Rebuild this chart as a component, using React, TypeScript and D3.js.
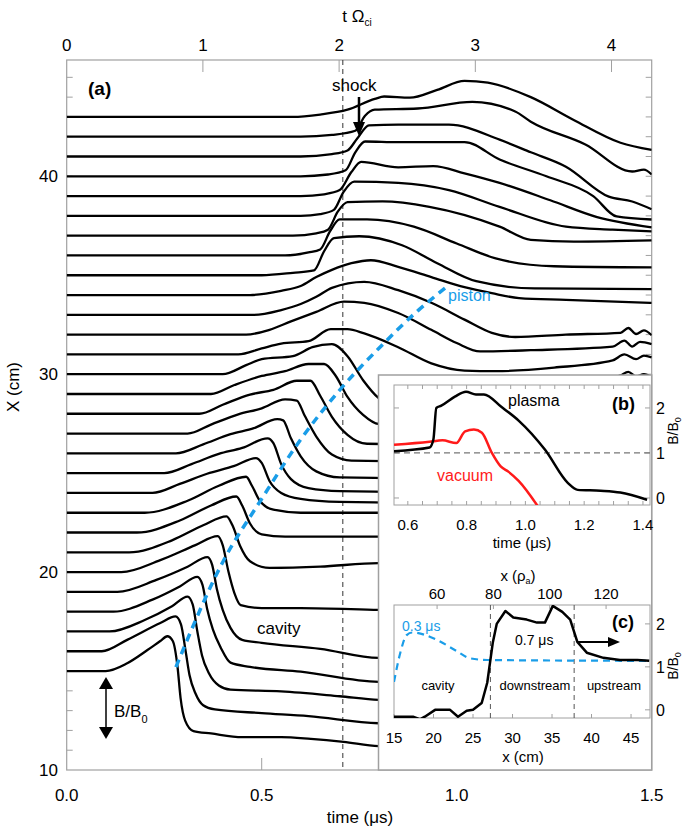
import React from "react";
import * as d3 from "d3";

// ---------- data ----------
// main panel: each trace = [time (us), B/B0]
const trace15 = [[0,1],[0.10,1.0],[0.155,1.13],[0.207,1.35],[0.24,1.5],[0.258,1.58],[0.272,1.5],[0.284,1.08],[0.292,0.55],[0.304,0.17],[0.325,0.0],[0.37,-0.04],[0.45,-0.1],[0.55,-0.1],[0.626,-0.13],[0.71,-0.18],[0.8,-0.25],[1.5,-0.3]];
const trace16 = [[0,1],[0.09,1.0],[0.155,1.19],[0.24,1.47],[0.279,1.58],[0.293,1.45],[0.305,1.0],[0.315,0.6],[0.33,0.3],[0.35,0.1],[0.38,0.03],[0.5,-0.03],[0.62,-0.08],[0.8,-0.2],[1.5,-0.25]];
const trace17 = [[0,1],[0.11,1.0],[0.2,1.19],[0.27,1.42],[0.31,1.58],[0.323,1.45],[0.335,1.0],[0.347,0.6],[0.365,0.3],[0.39,0.1],[0.42,0.03],[0.55,0.0],[0.7,-0.08],[0.8,-0.14],[1.5,-0.2]];
const trace18 = [[0,1],[0.12,1.0],[0.22,1.2],[0.29,1.42],[0.335,1.58],[0.348,1.45],[0.36,1.05],[0.375,0.7],[0.395,0.4],[0.42,0.15],[0.47,0.08],[0.6,0.0],[0.8,-0.17],[1.5,-0.2]];
const trace19 = [[0,1],[0.13,1.0],[0.23,1.2],[0.31,1.42],[0.361,1.58],[0.373,1.45],[0.385,1.05],[0.40,0.7],[0.42,0.4],[0.45,0.2],[0.5,0.15],[0.65,0.05],[0.8,-0.1],[1.5,-0.1]];
const trace20 = [[0,1],[0.14,1.0],[0.24,1.2],[0.33,1.45],[0.387,1.6],[0.40,1.45],[0.415,1.0],[0.43,0.65],[0.446,0.45],[0.5,0.4],[0.6,0.4],[0.8,0.37],[1.5,0.3]];
const trace21 = [[0,1],[0.16,1.0],[0.27,1.2],[0.35,1.45],[0.41,1.6],[0.425,1.45],[0.445,1.1],[0.47,0.85],[0.52,0.74],[0.65,0.76],[0.8,0.82],[1.5,0.8]];
const trace22 = [[0,1],[0.18,1.0],[0.29,1.2],[0.37,1.45],[0.435,1.6],[0.45,1.45],[0.47,1.15],[0.5,0.97],[0.56,0.93],[0.8,0.93],[1.5,0.9]];
const trace23 = [[0,1],[0.2,1.0],[0.31,1.2],[0.39,1.45],[0.46,1.6],[0.475,1.45],[0.495,1.2],[0.53,1.05],[0.6,1.0],[0.8,1.0],[1.5,1.0]];
const trace24 = [[0,1],[0.22,1.0],[0.29,1.15],[0.36,1.32],[0.43,1.45],[0.485,1.58],[0.5,1.5],[0.52,1.2],[0.55,1.0],[0.6,0.9],[0.7,0.85],[1.5,0.8]];
const trace25 = [[0,1],[0.25,1.0],[0.32,1.15],[0.39,1.32],[0.45,1.42],[0.515,1.58],[0.53,1.5],[0.55,1.15],[0.575,0.9],[0.62,0.75],[0.7,0.7],[1.5,0.65]];
const trace26 = [[0,1],[0.28,1.0],[0.35,1.15],[0.42,1.32],[0.48,1.42],[0.54,1.57],[0.555,1.55],[0.575,1.25],[0.6,0.95],[0.64,0.7],[0.7,0.6],[1.5,0.55]];
const trace27 = [[0,1],[0.31,1.0],[0.37,1.15],[0.44,1.32],[0.5,1.42],[0.56,1.57],[0.59,1.55],[0.61,1.3],[0.64,0.95],[0.68,0.65],[0.73,0.55],[1.5,0.5]];
const trace28 = [[0,1],[0.34,1.0],[0.4,1.15],[0.47,1.32],[0.53,1.4],[0.59,1.55],[0.625,1.55],[0.65,1.3],[0.68,0.95],[0.72,0.65],[0.77,0.5],[1.5,0.45]];
const trace29 = [[0,1],[0.37,1.0],[0.43,1.15],[0.5,1.3],[0.56,1.38],[0.62,1.5],[0.66,1.5],[0.69,1.3],[0.72,0.95],[0.76,0.65],[0.8,0.5],[1.5,0.45]];
const trace30 = [[0,1],[0.40,1.0],[0.46,1.15],[0.5,1.25],[0.58,1.3],[0.63,1.45],[0.68,1.5],[0.72,1.3],[0.76,0.9],[0.8,0.6],[0.85,0.45],[0.95,0.42],[1.1,0.5],[1.3,0.8],[1.42,0.98],[1.44,1.04],[1.46,0.96],[1.48,1.0],[1.5,0.95]];
const trace31 = [[0,1],[0.44,1.0],[0.5,1.1],[0.55,1.18],[0.62,1.22],[0.677,1.42],[0.72,1.42],[0.763,1.35],[0.85,1.12],[0.935,0.85],[1.02,0.73],[1.1,0.72],[1.25,0.78],[1.4,0.9],[1.43,1.0],[1.46,0.92],[1.48,0.98],[1.5,0.95]];
const trace32 = [[0,1],[0.46,1.0],[0.52,1.08],[0.575,1.22],[0.64,1.38],[0.711,1.55],[0.763,1.53],[0.85,1.36],[0.935,1.08],[1.0,0.86],[1.06,0.72],[1.19,0.74],[1.4,0.8],[1.43,0.9],[1.45,0.8],[1.47,0.88],[1.5,0.84]];
const trace33 = [[0,1],[0.48,1.0],[0.55,1.08],[0.6,1.18],[0.64,1.3],[0.68,1.45],[0.763,1.55],[0.85,1.41],[0.935,1.2],[1.02,0.92],[1.09,0.7],[1.15,0.63],[1.28,0.67],[1.42,0.7],[1.44,0.78],[1.46,0.68],[1.48,0.74],[1.5,0.66]];
const trace34 = [[0,1],[0.47,1.0],[0.55,1.07],[0.6,1.15],[0.64,1.3],[0.68,1.42],[0.73,1.53],[0.78,1.58],[0.85,1.47],[0.935,1.3],[1.02,1.13],[1.09,1.03],[1.16,0.95],[1.28,0.92],[1.5,0.87]];
const trace35 = [[0,1],[0.5,1.0],[0.58,1.04],[0.634,1.08],[0.66,1.4],[0.685,1.62],[0.75,1.65],[0.86,1.5],[0.95,1.2],[1.05,0.9],[1.2,0.78],[1.5,0.77]];
const trace36 = [[0,1],[0.56,1.0],[0.62,1.05],[0.65,1.1],[0.675,1.4],[0.70,1.6],[0.77,1.6],[0.89,1.48],[1.0,1.2],[1.1,0.95],[1.25,0.82],[1.5,0.8]];
const trace37 = [[0,1],[0.58,1.0],[0.64,1.04],[0.67,1.1],[0.695,1.4],[0.72,1.56],[0.81,1.57],[0.93,1.48],[1.11,1.15],[1.19,0.93],[1.3,0.9],[1.5,0.92]];
const trace38 = [[0,1],[0.6,1.0],[0.65,1.03],[0.685,1.1],[0.71,1.4],[0.737,1.57],[0.85,1.55],[0.98,1.43],[1.11,1.15],[1.28,0.82],[1.4,0.77],[1.5,0.74]];
const trace39 = [[0,1],[0.6,1.0],[0.66,1.03],[0.7,1.1],[0.73,1.4],[0.755,1.57],[0.85,1.48],[0.94,1.5],[1.02,1.38],[1.11,1.22],[1.24,0.93],[1.36,0.65],[1.5,0.48]];
const trace40 = [[0,1],[0.6,1.0],[0.67,1.03],[0.715,1.1],[0.74,1.4],[0.765,1.58],[0.85,1.57],[1.02,1.57],[1.11,1.28],[1.23,1.0],[1.35,0.67],[1.41,0.33],[1.5,0.28]];
const trace41 = [[0,1],[0.6,1.0],[0.68,1.04],[0.72,1.1],[0.745,1.3],[0.775,1.52],[0.85,1.53],[0.98,1.53],[1.11,1.28],[1.19,1.07],[1.28,0.83],[1.39,0.33],[1.45,0.25],[1.5,0.12]];
const trace42 = [[0,1],[0.6,1.0],[0.68,1.03],[0.74,1.1],[0.765,1.35],[0.79,1.45],[0.9,1.47],[1.04,1.58],[1.15,1.42],[1.19,1.25],[1.33,0.87],[1.45,0.42],[1.48,0.45],[1.5,0.37]];
const trace43 = [[0,1],[0.58,1.0],[0.65,1.04],[0.72,1.12],[0.79,1.3],[0.814,1.34],[0.88,1.32],[0.95,1.45],[1.02,1.6],[1.08,1.57],[1.19,1.33],[1.3,0.95],[1.42,0.57],[1.5,0.45]];

const positions = [15,16,17,18,19,20,21,22,23,24,25,26,27,28,29,30,31,32,33,34,35,36,37,38,39,40,41,42,43];
const traces = [trace15,trace16,trace17,trace18,trace19,trace20,trace21,trace22,trace23,trace24,trace25,trace26,trace27,trace28,trace29,trace30,trace31,trace32,trace33,trace34,trace35,trace36,trace37,trace38,trace39,trace40,trace41,trace42,trace43];

// piston trajectory [time (us), X (cm)]
const piston = [[0.28,15.2],[0.40,20.5],[0.50,23.7],[0.60,26.7],[0.70,29.2],[0.80,31.3],[0.90,33.2],[0.98,34.5]];
const shockTime = 0.708;

const timeTicks = [0.0, 0.5, 1.0, 1.5];
const omegaTicks = [0, 1, 2, 3, 4];
const xTicks = [10, 20, 30, 40];

// inset (b)
const plasma = [[0.553,1.04],[0.674,1.12],[0.687,1.3],[0.697,2.0],[0.714,2.05],[0.76,2.25],[0.798,2.36],[0.832,2.3],[0.859,2.3],[0.919,2.02],[0.977,1.72],[1.067,1.07],[1.145,0.33],[1.178,0.18],[1.256,0.16],[1.323,0.12],[1.414,-0.04]];
const vacuum = [[0.553,1.18],[0.674,1.25],[0.718,1.28],[0.765,1.22],[0.795,1.48],[0.825,1.52],[0.852,1.45],[0.886,1.0],[0.916,0.7],[0.943,0.58],[0.977,0.38],[1.044,-0.2]];
const bTimeTicks = [0.6, 0.8, 1.0, 1.2, 1.4];
const bTicks = [0, 1, 2];

// inset (c)
const profile07 = [[15.0,-0.16],[17.4,-0.16],[18.3,-0.22],[18.9,-0.16],[20.2,0.0],[22.1,0.0],[23.1,-0.16],[24.2,-0.02],[25.0,0.0],[26.1,0.16],[26.8,0.63],[27.5,1.56],[28.0,2.0],[29.1,2.3],[30.1,2.15],[31.8,2.1],[33.1,2.03],[34.1,2.03],[35.1,2.42],[36.3,2.28],[37.3,2.1],[38.2,1.58],[39.4,1.33],[41.5,1.21],[43.6,1.16],[45.8,1.16],[47.3,1.14]];
const profile03 = [[15.0,0.65],[15.8,1.33],[16.6,1.74],[17.3,1.8],[20.4,1.63],[22.9,1.37],[24.6,1.2],[26.8,1.16],[47.3,1.14]];
const cXTicks = [15, 20, 25, 30, 35, 40, 45];
const cRhoTicks = [60, 80, 100, 120];
const regionBounds = [27.2, 37.8];

const FONT = "'Liberation Sans', Arial, Helvetica, sans-serif";

export default function App() {
  const L = 66.7, R = 651.7, T = 60, B = 770;
  const x = d3.scaleLinear().domain([0, 1.5]).range([L, R]);
  const xo = d3.scaleLinear().domain([0, 4.295]).range([L, R]);
  const y = d3.scaleLinear().domain([10, 45.876]).range([B, T]);
  const amp = d3.scaleLinear().domain([0, 1]).range([0, 60]);

  const traceLine = (X: number) =>
    d3.line<number[]>()
      .x(d => x(d[0]))
      .y(d => y(X) - amp(d[1] - 1))
      .curve(d3.curveMonotoneX);

  const pistonLine = d3.line<number[]>().x(d => x(d[0])).y(d => y(d[1])).curve(d3.curveMonotoneX);

  // inset b
  const bL = 394, bR = 650, bT = 385, bB = 505;
  const bx = d3.scaleLinear().domain([0.553, 1.424]).range([bL, bR]);
  const by = d3.scaleLinear().domain([-0.156, 2.51]).range([bB, bT]);
  const bLine = d3.line<number[]>().x(d => bx(d[0])).y(d => by(d[1])).curve(d3.curveMonotoneX);

  // inset c
  const cL = 394, cR = 650, cT = 605, cB = 718;
  const cx = d3.scaleLinear().domain([15, 47.4]).range([cL, cR]);
  const crho = d3.scaleLinear().domain([44.7, 135.6]).range([cL, cR]);
  const cy = d3.scaleLinear().domain([-0.19, 2.44]).range([cB, cT]);
  const cLine = d3.line<number[]>().x(d => cx(d[0])).y(d => cy(d[1]));
  const cLineSmooth = d3.line<number[]>().x(d => cx(d[0])).y(d => cy(d[1])).curve(d3.curveMonotoneX);

  const minorCm = d3.range(11, 46);
  const bMinor = d3.range(0.6, 1.43, 0.05);

  return (
    <svg width={685} height={830} style={{ position: "absolute", left: 0, top: 0, background: "#fff" }} fontFamily={FONT}>
      <defs>
        <clipPath id="mainClip"><rect x={L} y={T} width={R - L} height={B - T} /></clipPath>
        <clipPath id="bClip"><rect x={bL} y={bT} width={bR - bL} height={bB - bT} /></clipPath>
        <clipPath id="cClip"><rect x={cL} y={cT} width={cR - cL} height={cB - cT} /></clipPath>
      </defs>

      {/* frame */}
      <rect x={L} y={T} width={R - L} height={B - T} fill="none" stroke="#a0a0a0" strokeWidth={1.2} />
      {minorCm.map(v => (
        <g key={"mt" + v} stroke="#a0a0a0" strokeWidth={1}>
          <line x1={L} x2={L + 6} y1={y(v)} y2={y(v)} />
          <line x1={R} x2={R - 6} y1={y(v)} y2={y(v)} />
        </g>
      ))}
      {omegaTicks.slice(1).map(v => (
        <line key={"ot" + v} x1={xo(v)} x2={xo(v)} y1={T} y2={T + 12} stroke="#a0a0a0" strokeWidth={1} />
      ))}
      {timeTicks.slice(1, 3).map(v => (
        <line key={"tt" + v} x1={x(v)} x2={x(v)} y1={B} y2={B - 12} stroke="#a0a0a0" strokeWidth={1} />
      ))}

      {/* labels */}
      {omegaTicks.map(v => (
        <text key={"ol" + v} x={xo(v)} y={51} fontSize={17} textAnchor="middle">{v}</text>
      ))}
      <text x={357} y={22} fontSize={17} textAnchor="middle">t Ω<tspan fontSize={10} dy={4}>ci</tspan></text>
      {timeTicks.map(v => (
        <text key={"tl" + v} x={x(v)} y={801} fontSize={17} textAnchor="middle">{v.toFixed(1)}</text>
      ))}
      <text x={360} y={823} fontSize={17} textAnchor="middle">time (μs)</text>
      {xTicks.map(v => (
        <text key={"xl" + v} x={58} y={y(v) + 6} fontSize={17} textAnchor="end">{v}</text>
      ))}
      <text transform={`translate(19,387) rotate(-90)`} fontSize={17} textAnchor="middle">X (cm)</text>

      {/* traces */}
      <g clipPath="url(#mainClip)">
        <line x1={x(shockTime)} x2={x(shockTime)} y1={T} y2={B} stroke="#333" strokeWidth={1} strokeDasharray="5,4" />
        {traces.map((tr, i) => (
          <path key={"tr" + i} d={traceLine(positions[i])(tr) || ""} fill="none" stroke="#000" strokeWidth={2.3} strokeLinejoin="round" />
        ))}
        <path d={pistonLine(piston) || ""} fill="none" stroke="#1a9de8" strokeWidth={3.5} strokeDasharray="8,6" />
      </g>

      <text x={88} y={95} fontSize={19} fontWeight="bold">(a)</text>
      <text x={332} y={91} fontSize={17}>shock</text>
      <line x1={359} x2={359} y1={97} y2={124} stroke="#000" strokeWidth={2.5} />
      <path d="M353,122 L365,122 L359,136 z" fill="#000" />
      <text x={448} y={301} fontSize={16} fill="#1a9de8">piston</text>
      <text x={257} y={634} fontSize={17}>cavity</text>
      <line x1={106} x2={106} y1={688} y2={728} stroke="#000" strokeWidth={1.5} />
      <path d="M99,689 L113,689 L106,677 z" fill="#000" />
      <path d="M99,727 L113,727 L106,739 z" fill="#000" />
      <text x={114} y={717} fontSize={17}>B/B<tspan fontSize={11} dy={6}>0</tspan></text>

      {/* inset box */}
      <rect x={378.5} y={375} width={R - 378.5} height={B - 375} fill="#fff" stroke="#a0a0a0" strokeWidth={1.5} />

      {/* inset b */}
      <rect x={bL} y={bT} width={bR - bL} height={bB - bT} fill="none" stroke="#a0a0a0" strokeWidth={1} />
      {bMinor.map((v, i) => (
        <g key={"bm" + i} stroke="#a0a0a0" strokeWidth={1}>
          <line x1={bx(v)} x2={bx(v)} y1={bT} y2={bT + 4} />
          <line x1={bx(v)} x2={bx(v)} y1={bB} y2={bB - 4} />
        </g>
      ))}
      {bTicks.map(v => (
        <g key={"bt" + v}>
          <line x1={bR} x2={bR - 5} y1={by(v)} y2={by(v)} stroke="#a0a0a0" />
          <line x1={bL} x2={bL + 5} y1={by(v)} y2={by(v)} stroke="#a0a0a0" />
          <text x={656} y={by(v) + 6} fontSize={16}>{v}</text>
        </g>
      ))}
      {bTimeTicks.map(v => (
        <text key={"btl" + v} x={bx(v)} y={530} fontSize={15} textAnchor="middle">{v.toFixed(1)}</text>
      ))}
      <text x={522} y={548} fontSize={15} textAnchor="middle">time (μs)</text>
      <text transform={`translate(678,431) rotate(-90)`} fontSize={14} textAnchor="middle">B/B<tspan fontSize={9} dy={3}>0</tspan></text>
      <g clipPath="url(#bClip)">
        <line x1={bL} x2={bR} y1={by(1)} y2={by(1)} stroke="#777" strokeWidth={1.2} strokeDasharray="6,4" />
        <path d={bLine(vacuum) || ""} fill="none" stroke="#ff1a1a" strokeWidth={2.5} />
        <path d={bLine(plasma) || ""} fill="none" stroke="#000" strokeWidth={2.5} />
      </g>
      <text x={508} y={406} fontSize={16}>plasma</text>
      <text x={437} y={481} fontSize={16} fill="#ff1a1a">vacuum</text>
      <text x={612} y={410} fontSize={18} fontWeight="bold">(b)</text>

      {/* inset c */}
      <rect x={cL} y={cT} width={cR - cL} height={cB - cT} fill="none" stroke="#a0a0a0" strokeWidth={1} />
      {cXTicks.map(v => (
        <g key={"cx" + v}>
          <line x1={cx(v)} x2={cx(v)} y1={cB} y2={cB - 4} stroke="#a0a0a0" />
          <text x={cx(v)} y={743} fontSize={15} textAnchor="middle">{v}</text>
        </g>
      ))}
      {cRhoTicks.map(v => (
        <g key={"cr" + v}>
          <line x1={crho(v)} x2={crho(v)} y1={cT} y2={cT + 4} stroke="#a0a0a0" />
          <text x={crho(v)} y={599} fontSize={15} textAnchor="middle">{v}</text>
        </g>
      ))}
      {bTicks.map(v => (
        <g key={"ct" + v}>
          <line x1={cR} x2={cR - 5} y1={cy(v)} y2={cy(v)} stroke="#a0a0a0" />
          <text x={656} y={cy(v) + 6} fontSize={16}>{v}</text>
        </g>
      ))}
      <text x={523} y={762} fontSize={15} textAnchor="middle">x (cm)</text>
      <text x={518} y={581} fontSize={15} textAnchor="middle">x (ρ<tspan fontSize={9} dy={3}>a</tspan><tspan dy={-3}>)</tspan></text>
      <text transform={`translate(678,666) rotate(-90)`} fontSize={14} textAnchor="middle">B/B<tspan fontSize={9} dy={3}>0</tspan></text>
      {regionBounds.map(v => (
        <line key={"rb" + v} x1={cx(v)} x2={cx(v)} y1={cT} y2={cB} stroke="#555" strokeWidth={1} strokeDasharray="5,4" />
      ))}
      <g clipPath="url(#cClip)">
        <path d={cLineSmooth(profile03) || ""} fill="none" stroke="#1a9de8" strokeWidth={2.2} strokeDasharray="7,5" />
        <path d={cLine(profile07) || ""} fill="none" stroke="#000" strokeWidth={2.5} strokeLinejoin="round" />
      </g>
      <text x={402} y={631} fontSize={14} fill="#1a9de8">0.3 μs</text>
      <text x={515} y={645} fontSize={14}>0.7 μs</text>
      <line x1={578} x2={612} y1={642} y2={642} stroke="#000" strokeWidth={2} />
      <path d="M608,637 L620,642 L608,647 z" fill="#000" />
      <text x={612} y={628} fontSize={18} fontWeight="bold">(c)</text>
      <text x={438} y={690} fontSize={13} textAnchor="middle">cavity</text>
      <text x={535} y={690} fontSize={13} textAnchor="middle">downstream</text>
      <text x={614} y={690} fontSize={13} textAnchor="middle">upstream</text>
    </svg>
  );
}
